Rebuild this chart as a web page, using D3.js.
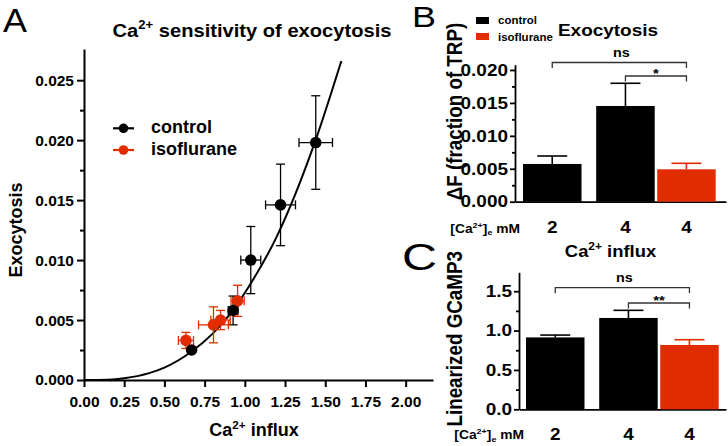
<!DOCTYPE html>
<html><head><meta charset="utf-8">
<script src="https://cdn.jsdelivr.net/npm/d3@7"></script>
<style>
body{margin:0;background:#fff}
svg{display:block}
text{font-family:"Liberation Sans",Arial,Helvetica,sans-serif;font-weight:bold;fill:#000}
</style>
</head><body>
<svg id="chart" width="728" height="446"></svg>
<script>
// ---------- Panel A data ----------
const ctrlInflux    = [0.669, 0.927, 1.037, 1.222, 1.441];
const ctrlInfluxErr = [0.0, 0.03, 0.062, 0.093, 0.104];
const ctrlExo       = [0.0025, 0.0058, 0.0100, 0.0146, 0.0198];
const ctrlExoErr    = [0.0, 0.0012, 0.0028, 0.0034, 0.0039];
const isoInflux     = [0.634, 0.805, 0.849, 0.955];
const isoInfluxErr  = [0.047, 0.093, 0.06, 0.041];
const isoExo        = [0.0033, 0.0046, 0.0050, 0.0066];
const isoExoErr     = [0.00067, 0.0015, 0.0008, 0.0013];
const fitX = [0, 0.15, 0.25, 0.4, 0.5, 0.667, 0.8, 0.92, 1.03, 1.2, 1.44, 1.6];
const fitY = [0, 0.00003, 0.00015, 0.00055, 0.00103, 0.00235, 0.00387, 0.0057, 0.0079, 0.0120, 0.0200, 0.0266];
const aXTicks = [0, 0.25, 0.5, 0.75, 1.0, 1.25, 1.5, 1.75, 2.0];
const aYTicks = [0, 0.005, 0.010, 0.015, 0.020, 0.025];
const aYMinor = [0.0025, 0.0075, 0.0125, 0.0175, 0.0225];

// ---------- Panel B data ----------
const concLabels = ["2", "4", "4"];
const barGroups  = ["control", "control", "isoflurane"];
const exoMean    = [0.00573, 0.01453, 0.00492];
const exoSem     = [0.00121, 0.00345, 0.00091];
const bYTicks = [0, 0.005, 0.010, 0.015, 0.020];
const bYMinor = [0.0025, 0.0075, 0.0125, 0.0175];
const exoSigFrom = [0, 1], exoSigTo = [2, 2], exoSigLabel = ["ns", "*"];

// ---------- Panel C data ----------
const influxMean = [0.913, 1.160, 0.817];
const influxSem  = [0.030, 0.097, 0.067];
const cYTicks = [0, 0.5, 1.0, 1.5];
const cYMinor = [0.25, 0.75, 1.25];
const influxSigFrom = [0, 1], influxSigTo = [2, 2], influxSigLabel = ["ns", "**"];

const RED = "#e12c00";
const colorOf = d3.scaleOrdinal().domain(["control", "isoflurane"]).range(["#000", RED]);

const svg = d3.select("#chart");

// helpers
function stretch(sel, s) {
  sel.each(function () {
    const t = d3.select(this);
    const x = +t.attr("x") || 0, y = +t.attr("y") || 0;
    t.attr("transform", `translate(${x},${y}) scale(${s},1)`).attr("x", 0).attr("y", 0);
  });
}
function rich(textSel, segs, fs) {
  let shift = 0;
  segs.forEach(sg => {
    const ts = textSel.append("tspan").text(sg.t);
    let target = 0, size = fs;
    if (sg.sup) { target = -0.4 * fs; size = 0.65 * fs; }
    if (sg.sub) { target = 0.22 * fs; size = 0.65 * fs; }
    ts.attr("font-size", size).attr("dy", target - shift);
    shift = target;
  });
}
function label(g, x, y, fs, anchor, s) {
  const t = g.append("text").attr("x", x).attr("y", y).attr("font-size", fs)
    .attr("text-anchor", anchor || "start");
  if (s) stretch(t, s);
  return t;
}
function styleAxis(ax, w, fs, s) {
  ax.selectAll("path,line").attr("stroke", "#000").attr("stroke-width", w);
  ax.selectAll("text").attr("font-size", fs).attr("fill", "#000")
    .style("font-family", '"Liberation Sans",Arial,sans-serif').style("font-weight", "bold");
  if (s) stretch(ax.selectAll("text"), s);
}

// ================= Panel A =================
const gA = svg.append("g");
const xA = d3.scaleLinear().domain([0, 2.17]).range([84, 433]);
const yA = d3.scaleLinear().domain([0, 0.0276]).range([380, 49]);

const axAY = gA.append("g").attr("transform", `translate(${xA(0)},0)`)
  .call(d3.axisLeft(yA).tickValues(aYTicks).tickFormat(d3.format(".3f")).tickSize(7).tickSizeOuter(0).tickPadding(3));
styleAxis(axAY, 2, 15.5);
const axAYm = gA.append("g").attr("transform", `translate(${xA(0)},0)`)
  .call(d3.axisLeft(yA).tickValues(aYMinor).tickFormat("").tickSize(4).tickSizeOuter(0));
axAYm.select(".domain").remove();
styleAxis(axAYm, 2, 15.5);
const axAX = gA.append("g").attr("transform", `translate(0,${yA(0)})`)
  .call(d3.axisBottom(xA).tickValues(aXTicks).tickFormat(d3.format(".2f")).tickSize(7).tickSizeOuter(0).tickPadding(9));
styleAxis(axAX, 2, 15.5);

// fit curve
const fitPts = fitX.map((x, i) => [x, fitY[i]]);
gA.append("path").datum(fitPts)
  .attr("d", d3.line().x(d => xA(d[0])).y(d => yA(d[1])).curve(d3.curveMonotoneX))
  .attr("fill", "none").attr("stroke", "#000").attr("stroke-width", 2);

function scatter(xs, xe, ys, ye, color) {
  const pts = xs.map((x, i) => ({ x, xe: xe[i], y: ys[i], ye: ye[i] }));
  const g = gA.append("g").attr("stroke", color).attr("stroke-width", 1.3);
  pts.forEach(p => {
    if (p.ye > 0) {
      g.append("line").attr("x1", xA(p.x)).attr("x2", xA(p.x)).attr("y1", yA(p.y - p.ye)).attr("y2", yA(p.y + p.ye));
      [p.y - p.ye, p.y + p.ye].forEach(v => g.append("line").attr("x1", xA(p.x) - 4.5).attr("x2", xA(p.x) + 4.5).attr("y1", yA(v)).attr("y2", yA(v)));
    }
    if (p.xe > 0) {
      g.append("line").attr("x1", xA(p.x - p.xe)).attr("x2", xA(p.x + p.xe)).attr("y1", yA(p.y)).attr("y2", yA(p.y));
      [p.x - p.xe, p.x + p.xe].forEach(v => g.append("line").attr("x1", xA(v)).attr("x2", xA(v)).attr("y1", yA(p.y) - 4.5).attr("y2", yA(p.y) + 4.5));
    }
  });
  return pts;
}
const ctrlPts = scatter(ctrlInflux, ctrlInfluxErr, ctrlExo, ctrlExoErr, "#000");
const isoPts = scatter(isoInflux, isoInfluxErr, isoExo, isoExoErr, RED);
gA.append("g").selectAll("circle").data(isoPts).join("circle")
  .attr("cx", d => xA(d.x)).attr("cy", d => yA(d.y)).attr("r", 5.8).attr("fill", RED);
gA.append("g").selectAll("circle").data(ctrlPts).join("circle")
  .attr("cx", d => xA(d.x)).attr("cy", d => yA(d.y)).attr("r", 5.8).attr("fill", "#000");

// legend A
[["control", "#000", 128.3, 133], ["isoflurane", RED, 150, 155]].forEach(([name, c, ly, by]) => {
  gA.append("line").attr("x1", 113).attr("x2", 134).attr("y1", ly).attr("y2", ly).attr("stroke", c).attr("stroke-width", 2.2);
  gA.append("circle").attr("cx", 123.5).attr("cy", ly).attr("r", 4.8).attr("fill", c);
  label(gA, 151, by, 18).text(name);
});

// texts A
svg.append("text").attr("x", 3).attr("y", 32).attr("font-size", 34).style("font-weight", "normal")
  .attr("textLength", 24).attr("lengthAdjust", "spacingAndGlyphs").text("A");
rich(label(gA, 252, 37, 19, "middle", 1.06), [{ t: "Ca" }, { t: "2+", sup: true }, { t: " sensitivity of exocytosis" }], 19);
rich(label(gA, 254, 436, 18, "middle"), [{ t: "Ca" }, { t: "2+", sup: true }, { t: " influx" }], 18);
gA.append("text").attr("transform", "translate(22,230) rotate(-90)").attr("text-anchor", "middle")
  .attr("font-size", 18).text("Exocytosis");

// ================= Bar panels =================
const S = 1.15;
const slotOf = i => i + (i > 0 ? 0.2 : 0);

function barPanel(opt) {
  const g = svg.append("g");
  const y = d3.scaleLinear().domain(opt.yDomain).range(opt.yRange);
  const xs = d3.scaleLinear().domain([0, 1]).range([opt.barLeft, opt.barLeft + 61]);
  const bw = 58.5;
  const cx = i => xs(slotOf(i)) + bw / 2;

  const ay = g.append("g").attr("transform", `translate(${opt.axisX},0)`)
    .call(d3.axisLeft(y).tickValues(opt.ticks).tickFormat(d3.format(opt.fmt)).tickSize(5).tickSizeOuter(0).tickPadding(2));
  styleAxis(ay, 1.8, 16.5, S);
  const aym = g.append("g").attr("transform", `translate(${opt.axisX},0)`)
    .call(d3.axisLeft(y).tickValues(opt.minor).tickFormat("").tickSize(3).tickSizeOuter(0));
  aym.select(".domain").remove();
  styleAxis(aym, 1.8, 16.5);
  const xr = d3.scaleLinear().range([opt.axisX, 726]);
  const ax = g.append("g").attr("transform", `translate(0,${y(0)})`)
    .call(d3.axisBottom(xr).tickValues([]).tickSizeOuter(0));
  styleAxis(ax, 1.8, 16.5);

  const bars = opt.mean.map((m, i) => ({ m, e: opt.sem[i], grp: barGroups[i], i }));
  bars.forEach(b => {
    const c = colorOf(b.grp);
    g.append("line").attr("x1", cx(b.i)).attr("x2", cx(b.i)).attr("y1", y(b.m)).attr("y2", y(b.m + b.e))
      .attr("stroke", c).attr("stroke-width", 1.6);
    g.append("line").attr("x1", cx(b.i) - 15).attr("x2", cx(b.i) + 15).attr("y1", y(b.m + b.e)).attr("y2", y(b.m + b.e))
      .attr("stroke", c).attr("stroke-width", 1.6);
  });
  g.append("g").selectAll("rect").data(bars).join("rect")
    .attr("x", d => xs(slotOf(d.i))).attr("width", bw)
    .attr("y", d => y(d.m)).attr("height", d => y(0) - y(d.m))
    .attr("fill", d => colorOf(d.grp));

  concLabels.forEach((c, i) => label(g, cx(i), opt.catY, 16.5, "middle", S).text(c));
  rich(label(g, opt.axisX + 5, opt.catY - 0.5, 12, "end", S),
    [{ t: "[Ca" }, { t: "2+", sup: true }, { t: "]" }, { t: "e", sub: true }, { t: " mM" }], 12);

  opt.sigFrom.forEach((f, k) => {
    const t = opt.sigTo[k], by = opt.sigY[k];
    g.append("path").attr("d", `M${cx(f)},${by + 5.5}V${by}H${cx(t)}V${by + 5.5}`)
      .attr("fill", "none").attr("stroke", "#333").attr("stroke-width", 1.3);
    const lab = opt.sigLabel[k];
    const isStar = lab.indexOf("*") >= 0;
    label(g, (cx(f) + cx(t)) / 2 + (isStar ? 0 : 2), isStar ? by + 1.5 : by - 6, isStar ? 13 : 12.5, "middle", S).text(lab);
  });

  g.append("text").attr("transform", `translate(${opt.ylabX},${opt.ylabY}) scale(${S},1) rotate(-90)`)
    .attr("text-anchor", "middle").attr("font-size", 18.8).text(opt.ylab);
  return g;
}

const gB = barPanel({
  yDomain: [0, 0.0208], yRange: [201.7, 64.7], axisX: 515, barLeft: 523,
  ticks: bYTicks, minor: bYMinor, fmt: ".3f", mean: exoMean, sem: exoSem,
  catY: 233, sigFrom: exoSigFrom, sigTo: exoSigTo, sigLabel: exoSigLabel, sigY: [62.5, 76],
  ylab: "\u0394F (fraction of TRP)", ylabX: 462, ylabY: 111.5
});
const gC = barPanel({
  yDomain: [0, 1.74], yRange: [409.3, 272.3], axisX: 519, barLeft: 526,
  ticks: cYTicks, minor: cYMinor, fmt: ".1f", mean: influxMean, sem: influxSem,
  catY: 439.5, sigFrom: influxSigFrom, sigTo: influxSigTo, sigLabel: influxSigLabel, sigY: [287.7, 303],
  ylab: "Linearized GCaMP3", ylabX: 462, ylabY: 338.8
});

rich(label(gB, 608, 35.5, 16.5, "middle", S), [{ t: "Exocytosis" }], 16.5);
rich(label(gC, 610.5, 256.5, 16, "middle", S), [{ t: "Ca" }, { t: "2+", sup: true }, { t: " influx" }], 16);
svg.append("text").attr("x", 412).attr("y", 27).attr("font-size", 29).style("font-weight", "normal")
  .attr("textLength", 24).attr("lengthAdjust", "spacingAndGlyphs").text("B");
svg.append("text").attr("x", 402).attr("y", 270).attr("font-size", 37).style("font-weight", "normal")
  .attr("textLength", 35).attr("lengthAdjust", "spacingAndGlyphs").text("C");

[["control", 17, 24], ["isoflurane", 33, 40.5]].forEach(([name, ry, by]) => {
  gB.append("rect").attr("x", 476).attr("y", ry).attr("width", 13).attr("height", 7).attr("fill", colorOf(name));
  label(gB, 498, by, 10, "start", S).text(name);
});
</script>
</body></html>
